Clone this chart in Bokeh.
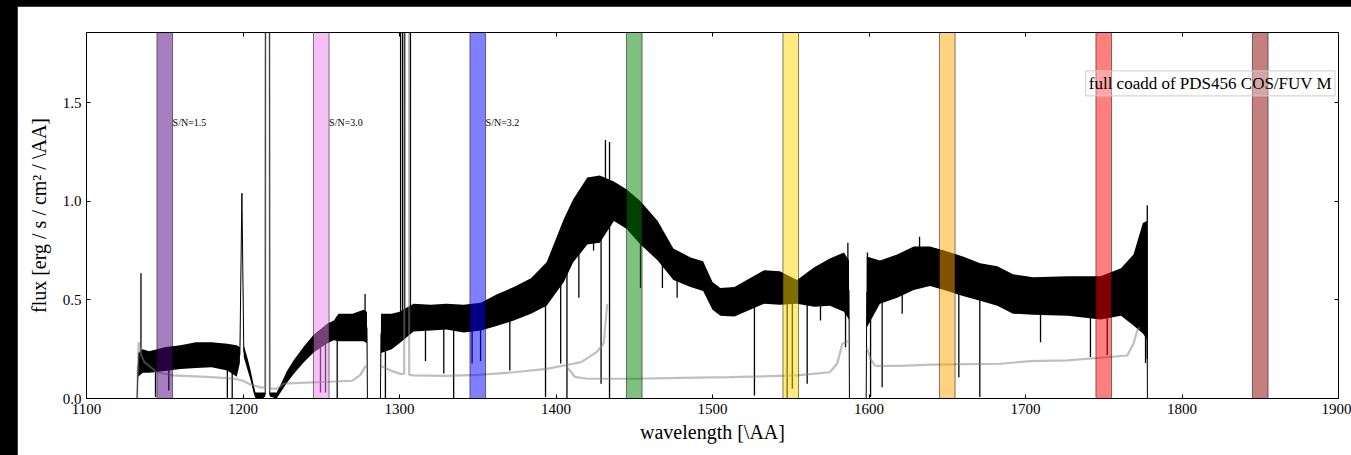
import numpy as np
from bokeh.plotting import figure
from bokeh.models import (Range1d, LinearAxis, FixedTicker, PrintfTickFormatter, Label,
                          ColumnDataSource, CustomLabelingPolicy)
from bokeh.layouts import column
from bokeh.core.properties import value
from bokeh.embed import file_html
from bokeh.resources import INLINE

# ---------------- data ----------------
# flux spectrum: wavelength knots [A], mid flux [1e-14 erg/s/cm2/A], noise half-width
wl = [1132.3, 1133.0, 1136.0, 1140, 1150, 1160, 1170, 1180, 1190, 1196, 1198.0, 1199.3,
      1200.5, 1202.7, 1204.8, 1206.9, 1208.0, 1212.5, 1214.2, 1214.5, 1216.8, 1217.1,
      1221.5, 1224, 1228, 1232.5, 1239, 1245.3, 1254, 1258, 1261, 1270, 1277, 1279.2,
      1279.5, 1287.8, 1288.2, 1295, 1300, 1309, 1320, 1330, 1341, 1352, 1362, 1373,
      1384, 1394, 1405, 1411, 1420, 1428, 1437, 1445, 1454, 1465, 1475, 1486, 1494,
      1500, 1505, 1514, 1533, 1543, 1554, 1565, 1575, 1584, 1587.2, 1587.5, 1598.2,
      1598.6, 1607, 1618, 1628.6, 1639, 1648, 1660, 1671, 1682, 1692, 1705, 1727,
      1748, 1761, 1769, 1775, 1777.6, 1777.9]
flux = [0.0, 0.17, 0.19, 0.185, 0.20, 0.21, 0.22, 0.222, 0.21, 0.19, 0.22, 1.04,
        0.24, 0.18, 0.12, 0.045, 0.015, 0.015, 0.02, 3.0, 3.0, 0.02,
        0.015, 0.05, 0.108, 0.16, 0.225, 0.28, 0.33, 0.345, 0.36, 0.36, 0.37, 0.36,
        0.0, 0.0, 0.33, 0.34, 0.36, 0.41, 0.41, 0.415, 0.405, 0.415, 0.447, 0.48,
        0.52, 0.58, 0.75, 0.85, 0.95, 0.96, 1.0, 0.96, 0.89, 0.80, 0.68, 0.64, 0.62,
        0.52, 0.49, 0.49, 0.565, 0.56, 0.54, 0.565, 0.59, 0.59, 0.55, 0.0, 0.0,
        0.54, 0.59, 0.62, 0.66, 0.67, 0.65, 0.62, 0.59, 0.57, 0.53, 0.52, 0.52,
        0.51, 0.54, 0.55, 0.61, 0.60, 0.0]
noise = [0.0, 0.06, 0.06, 0.055, 0.06, 0.06, 0.065, 0.063, 0.068, 0.08, 0.04, 0.0,
         0.03, 0.03, 0.025, 0.02, 0.015, 0.015, 0.01, 0.0, 0.0, 0.01,
         0.015, 0.02, 0.03, 0.035, 0.04, 0.045, 0.05, 0.05, 0.07, 0.07, 0.08, 0.08,
         0.0, 0.0, 0.10, 0.09, 0.08, 0.07, 0.065, 0.065, 0.07, 0.07, 0.08, 0.085,
         0.09, 0.11, 0.16, 0.16, 0.17, 0.17, 0.10, 0.10, 0.11, 0.10, 0.08, 0.075, 0.075,
         0.07, 0.07, 0.075, 0.085, 0.085, 0.06, 0.10, 0.12, 0.15, 0.15, 0.0, 0.0,
         0.18, 0.11, 0.11, 0.11, 0.10, 0.10, 0.10, 0.095, 0.10, 0.10, 0.095, 0.10,
         0.11, 0.12, 0.18, 0.28, 0.30, 0.0]

# narrow features (absorption dips, emission spikes, geocoronal lines): wavelength, tip flux
spike_wl = [1134.8, 1144.1, 1152.6, 1190.0, 1193.1, 1249.5, 1252.7, 1260.2, 1278.0, 1291.0,
            1300.7, 1302.0, 1303.3, 1307.0, 1316.6, 1328.3, 1334.6, 1346.4, 1351.8, 1370.5,
            1393.3, 1403.0, 1407.0, 1414.6, 1424.0, 1428.8, 1431.6, 1434.2, 1434.2, 1454.0,
            1468.0, 1477.4, 1526.8, 1547.7, 1551.0, 1560.5, 1569.0, 1585.0, 1586.5, 1599.0,
            1601.0, 1608.4, 1621.2, 1632.3, 1657.4, 1670.8, 1709.6, 1741.5, 1752.2, 1776.7,
            1777.8]
spike_tip = [0.635, 0.007, 0.04, 0.0, 0.0, 0.03, 0.03, 0.0, 0.53, 0.0,
             3.0, 3.0, 3.0, 3.0, 0.19, 0.127, 0.0, 0.177, 0.19, 0.142,
             0.007, 0.177, 0.0, 0.51, 0.75, 0.075, 1.31, 1.30, 0.0, 0.56,
             0.56, 0.51, 0.015, 0.0, 0.05, 0.075, 0.395, 0.26, 0.79, 0.74,
             0.007, 0.057, 0.43, 0.82, 0.108, 0.007, 0.285, 0.21, 0.22, 0.18,
             0.98]

# error spectrum (NaN separates detector segments)
err_wl = [1132.3, 1133.3, 1135, 1137, 1145, 1155, 1180, 1195, 1200, 1205, 1212, 1214.2,
          1214.4, 1216.9, 1217.1, 1222, 1226, 1240, 1255, 1270, 1275, 1278, 1279.3,
          np.nan,
          1288.2, 1295, 1300.5, 1303.0, 1303.1, 1306.0, 1306.2, 1309, 1330, 1350, 1373,
          1394, 1410, 1416, 1426, 1430.5, 1432.7,
          np.nan,
          1407, 1412, 1420, 1450, 1480, 1511, 1554, 1575, 1579.7, 1583, 1586.5,
          np.nan,
          1598.5, 1601, 1604, 1620, 1640, 1684, 1703, 1727, 1765, 1769, 1771.4, 1773]
err = [0.0, 0.285, 0.22, 0.184, 0.133, 0.117, 0.108, 0.10, 0.09, 0.07, 0.055, 0.055,
       3.0, 3.0, 0.05, 0.05, 0.075, 0.08, 0.085, 0.09, 0.12, 0.16, 0.17,
       np.nan,
       0.165, 0.14, 0.125, 0.125, 3.0, 3.0, 0.12, 0.117, 0.115, 0.12, 0.133,
       0.15, 0.175, 0.184, 0.235, 0.28, 0.48,
       np.nan,
       0.16, 0.11, 0.10, 0.10, 0.105, 0.108, 0.117, 0.133, 0.177, 0.278, 0.29,
       np.nan,
       0.26, 0.20, 0.165, 0.165, 0.172, 0.176, 0.189, 0.193, 0.218, 0.278, 0.345, 0.36]

band_centers = [1150, 1250, 1350, 1450, 1550, 1650, 1750, 1850]
band_colors = ["indigo", "violet", "blue", "green", "gold", "orange", "red", "darkred"]
sn_wl = [1155, 1255, 1355]
sn_text = ["S/N=1.5", "S/N=3.0", "S/N=3.2"]

x_ticks = [1100, 1200, 1300, 1400, 1500, 1600, 1700, 1800, 1900]
y_ticks = [0.0, 0.5, 1.0, 1.5]

# ---------------- plot ----------------
FONT = "Liberation Serif"
p = figure(width=1334, height=449, x_range=Range1d(1100, 1900), y_range=Range1d(0, 1.855),
           output_backend="svg", toolbar_location=None,
           min_border_left=69, min_border_right=13, min_border_top=26, min_border_bottom=57,
           x_axis_label="wavelength [\\AA]", y_axis_label="flux [erg / s / cm² / \\AA]")
p.margin = (6, 0, 0, 17)
p.xgrid.visible = False
p.ygrid.visible = False
p.outline_line_color = "black"
p.outline_line_alpha = 1.0
p.background_fill_color = "white"
p.border_fill_color = "white"

wl_a = np.array(wl)
fl_a = np.array(flux)
nz_a = np.array(noise)
p.varea(x=wl_a, y1=fl_a - nz_a, y2=fl_a + nz_a, fill_color="black")
p.line(wl_a, fl_a, line_color="black", line_width=1)
sw = np.array(spike_wl)
p.segment(x0=sw, y0=np.interp(sw, wl_a, fl_a), x1=sw, y1=np.array(spike_tip),
          line_color="black", line_width=1.3)

p.line(np.array(err_wl, dtype=float), np.array(err, dtype=float),
       line_color="gray", line_alpha=0.5, line_width=2.2)

bc = np.array(band_centers, dtype=float)
p.quad(left=bc - 5, right=bc + 5, bottom=-1, top=5, fill_color=band_colors, fill_alpha=0.5,
       line_color="black", line_alpha=0.5, line_width=1)

src = ColumnDataSource(dict(x=sn_wl, t=sn_text))
p.text(x="x", y=1.4, text="t", source=src, text_font=value(FONT), text_font_size="10px",
       text_baseline="alphabetic", text_align="left", text_color="black")

p.add_layout(Label(x=1738.5, y=1.597, text="full coadd of PDS456 COS/FUV M",
                   text_font=FONT, text_font_size="17px", text_baseline="middle",
                   text_color="black",
                   border_line_color="#cccccc", border_line_alpha=1.0,
                   background_fill_color="white", background_fill_alpha=0.3, padding=3))
p.add_layout(Label(x=1100, y=1.855, y_offset=4, text="1e\u221214", text_font=FONT,
                   text_font_size="12px", text_baseline="bottom", text_color="black"))

def style(ax, size="15px"):
    ax.axis_line_color = "black"
    ax.major_tick_in = 4
    ax.major_tick_out = 0
    ax.minor_tick_line_color = None
    ax.major_tick_line_color = "black"
    ax.major_label_text_font = FONT
    ax.major_label_text_font_size = size
    ax.major_label_text_color = "black"
    ax.major_label_standoff = 5
    ax.axis_label_text_font = FONT
    ax.axis_label_text_font_size = "20px"
    ax.axis_label_text_font_style = "normal"
    ax.axis_label_text_color = "black"

p.xaxis[0].ticker = FixedTicker(ticks=x_ticks)
p.xaxis[0].formatter = PrintfTickFormatter(format="%d")
p.yaxis[0].ticker = FixedTicker(ticks=y_ticks)
p.yaxis[0].formatter = PrintfTickFormatter(format="%.1f")
style(p.xaxis[0])
style(p.yaxis[0])
p.xaxis[0].axis_label_standoff = 4
p.yaxis[0].axis_label_standoff = 10

hide = "for (const i of indices) indices.unset(i)"
top = LinearAxis(ticker=FixedTicker(ticks=x_ticks), formatter=PrintfTickFormatter(format="%d"),
                 major_label_policy=CustomLabelingPolicy(code=hide))
right = LinearAxis(ticker=FixedTicker(ticks=y_ticks), formatter=PrintfTickFormatter(format="%.1f"),
                   major_label_policy=CustomLabelingPolicy(code=hide))
style(top, "1px")
style(right, "1px")
top.major_label_standoff = 0
right.major_label_standoff = 0
p.add_layout(top, "above")
p.add_layout(right, "right")

layout = column(p, styles={"background-color": "black"})
open("out.html", "w").write(file_html(layout, INLINE))
